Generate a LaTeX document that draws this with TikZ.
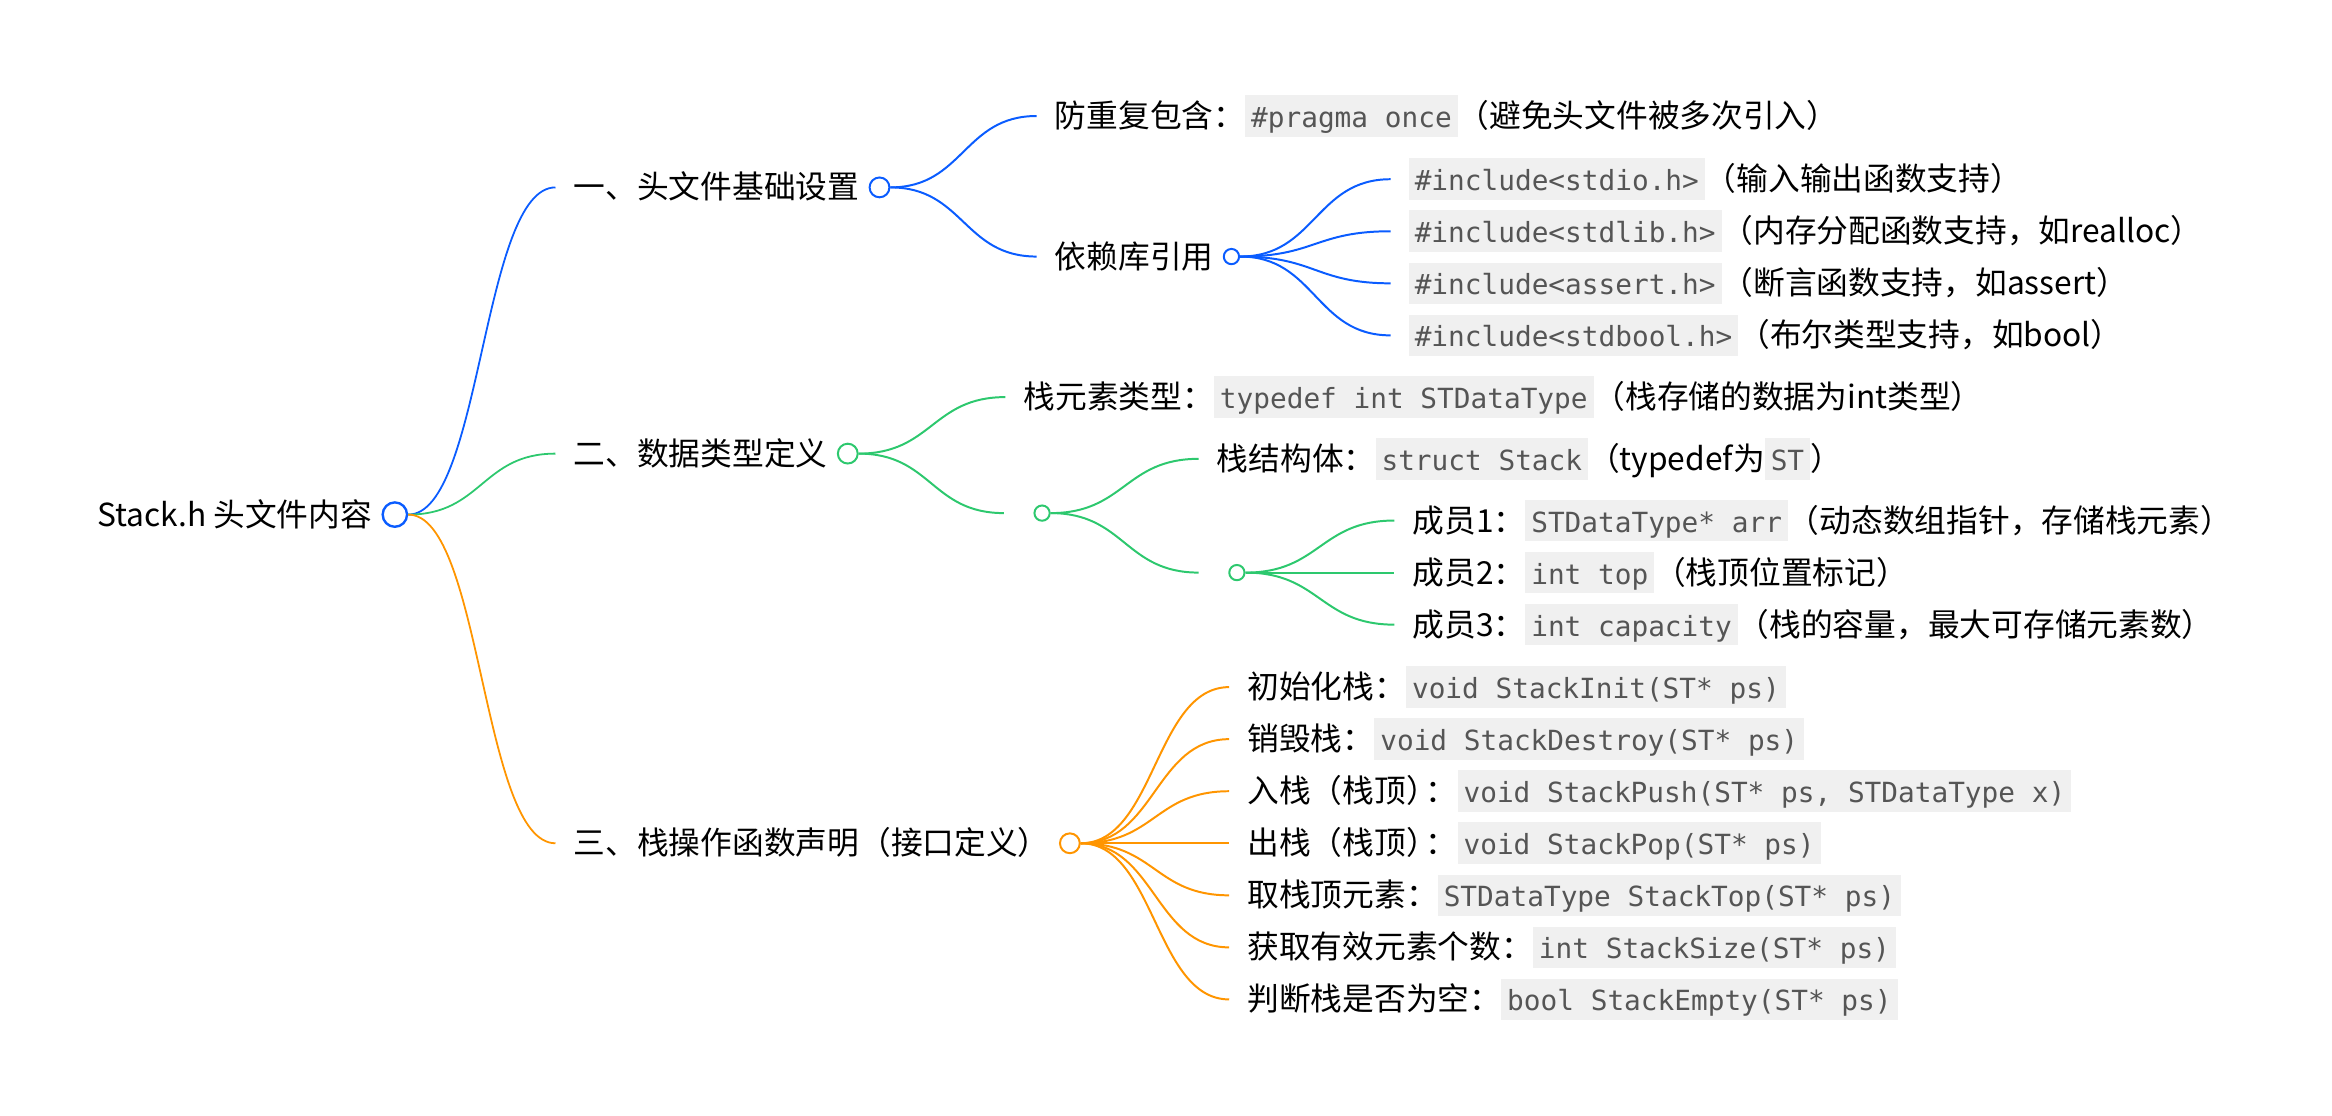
\documentclass[tikz,border=0pt]{standalone}
\usepackage{fontspec}
\setmainfont{Noto Sans CJK SC}
\setmonofont{DejaVu Sans Mono}
\usetikzlibrary{positioning,calc}
\definecolor{mapblue}{HTML}{0A5CFF}
\definecolor{mapgreen}{HTML}{2DC86E}
\definecolor{maporange}{HTML}{FF9500}
\definecolor{codebg}{HTML}{F0F0F0}
\definecolor{codefg}{HTML}{555555}
\newcommand{\code}[1]{{\setlength{\fboxsep}{0pt}\colorbox{codebg}{\hspace{3pt}\rule[-4.7pt]{0pt}{21pt}\textcolor{codefg}{\fontsize{14pt}{16pt}\ttfamily #1}\hspace{3pt}}}}

\begin{document}
\begin{tikzpicture}[x=0.75pt,y=-0.75pt,
        txt/.style={anchor=west,inner sep=0pt,font=\fontsize{16pt}{19pt}\selectfont,
          execute at begin node={\rule[-4.7pt]{0pt}{21pt}}},
        dot/.style={circle,draw,fill=white,inner sep=0pt,line width=1pt,minimum size=#1},
        link/.style={to path={let \p1=(\tikztostart),\p2=(\tikztotarget) in
          .. controls ({0.5*\x1+0.5*\x2},\y1) and ({0.5*\x1+0.5*\x2},\y2) .. (\tikztotarget)}}]
        \useasboundingbox (0,0) rectangle (1568,750);
        % root
        \node[txt] (root) at (65,346) {Stack.h 头文件内容};
        \node[dot=12.3pt,draw=mapblue,line width=1.2pt,right=4.5pt of root] (rootc) {};
        % first level
        \node[txt] (l1a) at (385.5,126) {一、头文件基础设置};
        \node[dot=10pt,draw=mapblue,right=4.5pt of l1a] (l1ac) {};
        \node[txt] (l1b) at (385.5,305) {二、数据类型定义};
        \node[dot=10pt,draw=mapgreen,right=4.5pt of l1b] (l1bc) {};
        \node[txt] (l1c) at (385.5,567) {三、栈操作函数声明（接口定义）};
        \node[dot=10pt,draw=maporange,right=4.5pt of l1c] (l1cc) {};
        % header setup
        \node[txt] (b1) at (709,78) {防重复包含：\code{\#pragma once}（避免头文件被多次引入）};
        \node[txt] (b2) at (709,172.5) {依赖库引用};
        \node[dot=7.7pt,draw=mapblue,right=4.5pt of b2] (b2c) {};
        \node[txt] (b21) at (947,120.5) {\code{\#include<stdio.h>}（输入输出函数支持）};
        \node[txt] (b22) at (947,155.5) {\code{\#include<stdlib.h>}（内存分配函数支持，如realloc）};
        \node[txt] (b23) at (947,190.5) {\code{\#include<assert.h>}（断言函数支持，如assert）};
        \node[txt] (b24) at (947,225.5) {\code{\#include<stdbool.h>}（布尔类型支持，如bool）};
        % data types
        \node[txt] (g1) at (688,267) {栈元素类型：\code{typedef int STDataType}（栈存储的数据为int类型）};
        \node[txt] (g2) at (687,345) {};
        \node[dot=7.7pt,draw=mapgreen,right=4.5pt of g2] (g2c) {};
        \node[txt] (g21) at (818,308.5) {栈结构体：\code{struct Stack}（typedef为\code{ST}）};
        \node[txt] (g22) at (818,385) {};
        \node[dot=7.7pt,draw=mapgreen,right=4.5pt of g22] (g22c) {};
        \node[txt] (g221) at (949.5,350) {成员1：\code{STDataType* arr}（动态数组指针，存储栈元素）};
        \node[txt] (g222) at (949.5,385) {成员2：\code{int top}（栈顶位置标记）};
        \node[txt] (g223) at (949.5,420) {成员3：\code{int capacity}（栈的容量，最大可存储元素数）};
        % stack functions
        \foreach \n/\y/\t in {1/462/{初始化栈：\code{void StackInit(ST* ps)}},
            2/497/{销毁栈：\code{void StackDestroy(ST* ps)}},
            3/532/{入栈（栈顶）\kern-6pt：\code{void StackPush(ST* ps, STDataType x)}},
            4/567/{出栈（栈顶）\kern-6pt：\code{void StackPop(ST* ps)}},
            5/602/{取栈顶元素：\code{STDataType StackTop(ST* ps)}},
            6/637/{获取有效元素个数：\code{int StackSize(ST* ps)}},
            7/672/{判断栈是否为空：\code{bool StackEmpty(ST* ps)}}}
          \node[txt] (o\n) at (838.5,\y) {\t};
        % links
        \draw[mapblue,line width=0.9pt] (rootc.east) to[link] ([xshift=-9pt]l1a.west);
        \draw[mapgreen,line width=0.9pt] (rootc.east) to[link] ([xshift=-9pt]l1b.west);
        \draw[maporange,line width=0.9pt] (rootc.east) to[link] ([xshift=-9pt]l1c.west);
        \foreach \u/\w in {l1ac/b1,l1ac/b2,b2c/b21,b2c/b22,b2c/b23,b2c/b24}
          \draw[mapblue,line width=1pt] (\u.east) to[link] ([xshift=-9pt]\w.west);
        \foreach \u/\w in {l1bc/g1,l1bc/g2,g2c/g21,g2c/g22,g22c/g221,g22c/g222,g22c/g223}
          \draw[mapgreen,line width=1pt] (\u.east) to[link] ([xshift=-9pt]\w.west);
        \foreach \w in {1,...,7}
          \draw[maporange,line width=1pt] (l1cc.east) to[link] ([xshift=-9pt]o\w.west);
      \end{tikzpicture}
\end{document}
